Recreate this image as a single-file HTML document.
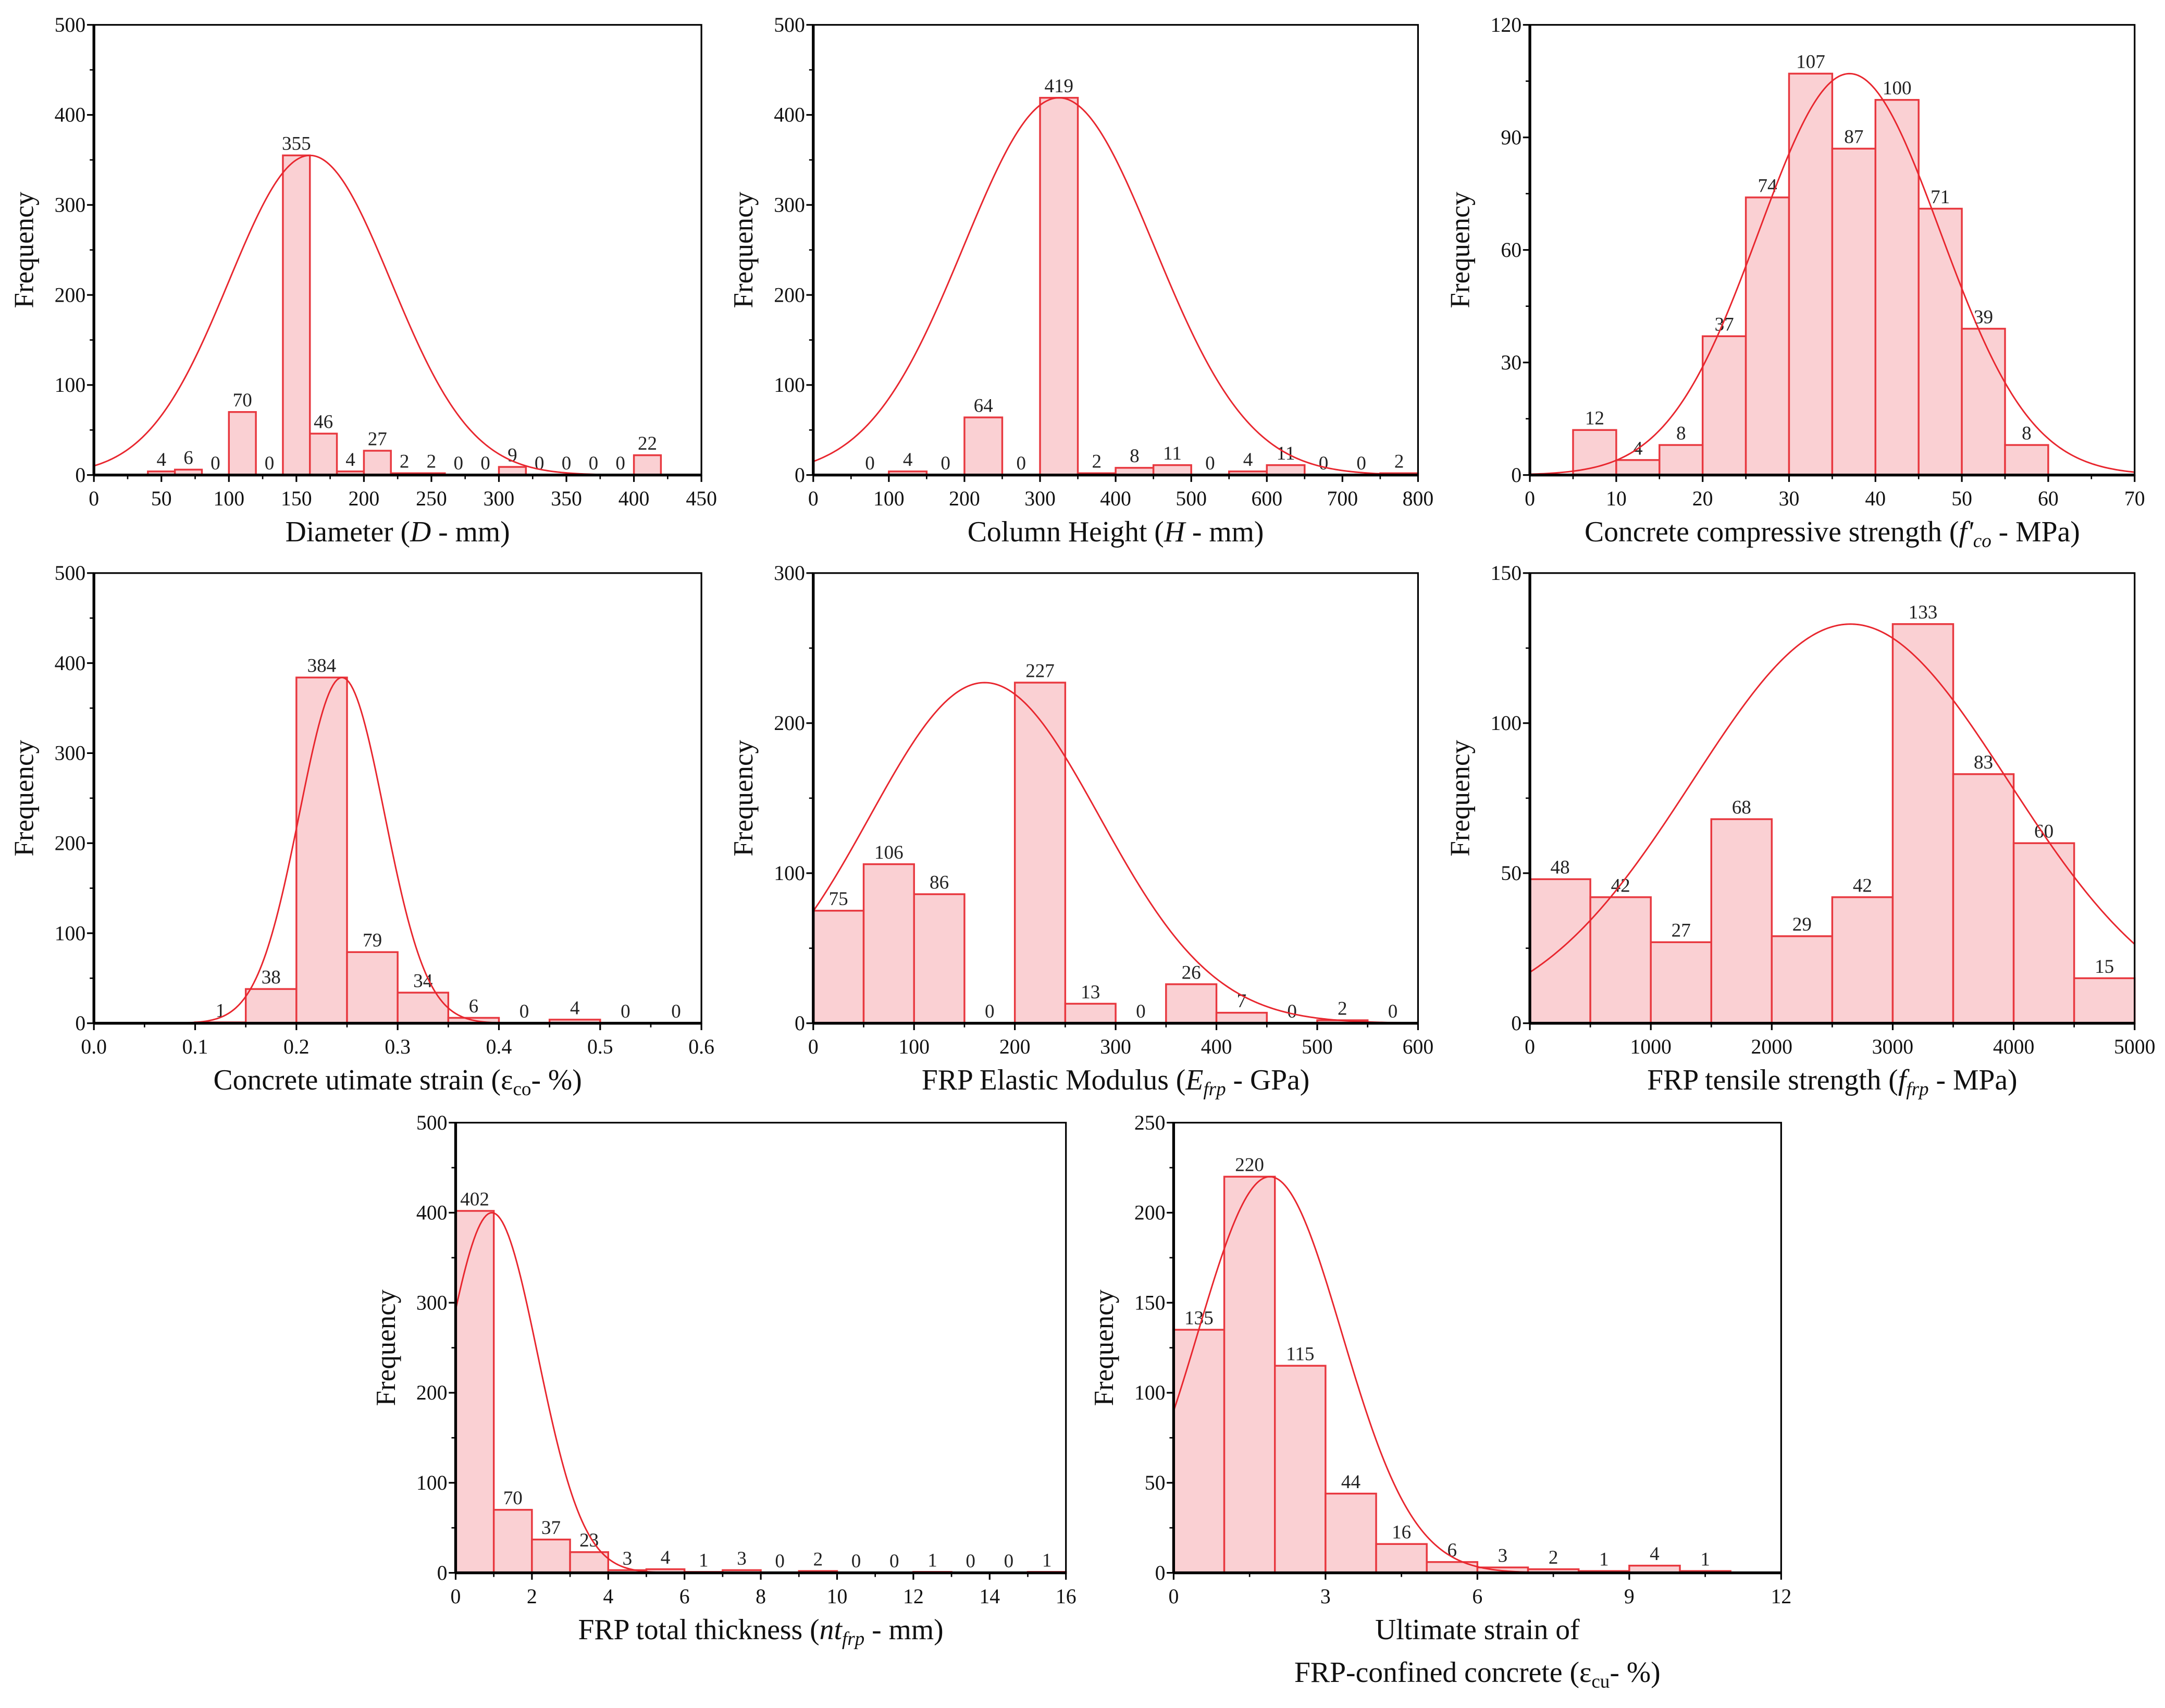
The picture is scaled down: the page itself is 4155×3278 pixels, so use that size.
<!DOCTYPE html>
<html><head><meta charset="utf-8"><title>Histograms</title>
<style>
html,body{margin:0;padding:0;background:#fff;}
svg, svg text{font-family:"Liberation Serif","Times New Roman",serif;}
</style></head>
<body>
<svg id="fig" xmlns="http://www.w3.org/2000/svg" width="4155" height="3273" viewBox="0 0 1568 1235" preserveAspectRatio="none" font-family="Liberation Serif, serif"></svg>
<script>
// ---- Panel data (small named arrays) ----
const p1Counts=[4,6,0,70,0,355,46,4,27,2,2,0,0,9,0,0,0,0,22];
const p1Start=40, p1Width=20;
const p1XTicks=[0,50,100,150,200,250,300,350,400,450];
const p1YTicks=[0,100,200,300,400,500];
const p1Fit=[160,60,355];

const p2Counts=[0,4,0,64,0,419,2,8,11,0,4,11,0,0,2];
const p2Start=50, p2Width=50;
const p2XTicks=[0,100,200,300,400,500,600,700,800];
const p2YTicks=[0,100,200,300,400,500];
const p2Fit=[325,126,419];

const p3Counts=[12,4,8,37,74,107,87,100,71,39,8];
const p3Start=5, p3Width=5;
const p3XTicks=[0,10,20,30,40,50,60,70];
const p3YTicks=[0,30,60,90,120];
const p3Fit=[37,10.5,107];

const p4Counts=[1,38,384,79,34,6,0,4,0,0];
const p4Start=0.1, p4Width=0.05;
const p4XTicks=[0,0.1,0.2,0.3,0.4,0.5,0.6];
const p4XTickLabels=["0.0","0.1","0.2","0.3","0.4","0.5","0.6"];
const p4YTicks=[0,100,200,300,400,500];
const p4Fit=[0.245,0.042,384];

const p5Counts=[75,106,86,0,227,13,0,26,7,0,2,0];
const p5Start=0, p5Width=50;
const p5XTicks=[0,100,200,300,400,500,600];
const p5YTicks=[0,100,200,300];
const p5Fit=[170,114,227];

const p6Counts=[48,42,27,68,29,42,133,83,60,15];
const p6Start=0, p6Width=500;
const p6XTicks=[0,1000,2000,3000,4000,5000];
const p6YTicks=[0,50,100,150];
const p6Fit=[2650,1306,133];

const p7Counts=[402,70,37,23,3,4,1,3,0,2,0,0,1,0,0,1];
const p7Start=0, p7Width=1;
const p7XTicks=[0,2,4,6,8,10,12,14,16];
const p7YTicks=[0,100,200,300,400,500];
const p7Fit=[0.95,1.2,400];

const p8Counts=[135,220,115,44,16,6,3,2,1,4,1];
const p8Start=0, p8Width=1;
const p8XTicks=[0,3,6,9,12];
const p8YTicks=[0,50,100,150,200,250];
const p8Fit=[1.9,1.42,220];

const NS="http://www.w3.org/2000/svg";
const FF="Liberation Serif, Times New Roman, serif";
const svg=document.getElementById('fig');
function mk(tag,attrs,parent){const e=document.createElementNS(NS,tag);for(const k in attrs)e.setAttribute(k,attrs[k]);(parent||svg).appendChild(e);return e;}

function panel(cfg){
  const g=mk('g',{});
  
  
  const {x0,x1,y0,y1,xmin,xmax,ymin,ymax}=cfg;
  const sx=v=>x0+(v-xmin)/(xmax-xmin)*(x1-x0);
  const sy=v=>y1-(v-ymin)/(ymax-ymin)*(y1-y0);
  const cid='clip'+cfg.name;
  const cp=mk('clipPath',{id:cid},g); mk('rect',{x:x0,y:y0,width:x1-x0,height:y1-y0},cp);
  cfg.counts.forEach((c,i)=>{
    const a=cfg.start+i*cfg.width,b=a+cfg.width;
    if(c>0){
      const r=mk('rect',{x:sx(a),y:sy(c),width:sx(b)-sx(a),height:sy(0)-sy(c),fill:'#fad0d3',stroke:'#e8383f','stroke-width':1.3},g);
      
      
    }
    const t=mk('text',{x:(sx(a)+sx(b))/2,y:sy(c)-4,'text-anchor':'middle','font-size':14,'font-family':FF,fill:'#222'},g);
    t.textContent=c;
    
    
  });
  const [m,s,pk]=cfg.fit;
  let d='';
  for(let k=0;k<=300;k++){const v=xmin+(xmax-xmin)*k/300;const y=pk*Math.exp(-(v-m)*(v-m)/(2*s*s));d+=(k?'L':'M')+sx(v).toFixed(2)+','+sy(y).toFixed(2);}
  const cu=mk('path',{d:d,fill:'none',stroke:'#e8262e','stroke-width':1.1,'clip-path':'url(#'+cid+')'},g);
  
  
  const fr=mk('rect',{x:x0,y:y0,width:x1-x0,height:y1-y0,fill:'none',stroke:'#000','stroke-width':1.2},g);
  
  
  mk('line',{x1:x0,y1:y1,x2:x1,y2:y1,stroke:'#000','stroke-width':2},g);
  mk('line',{x1:x0,y1:y0,x2:x0,y2:y1,stroke:'#000','stroke-width':2},g);
  cfg.xticks.forEach((v,i)=>{
    mk('line',{x1:sx(v),y1:y1,x2:sx(v),y2:y1+5,stroke:'#000','stroke-width':1.2},g);
    if(i<cfg.xticks.length-1){const mv=(v+cfg.xticks[i+1])/2;mk('line',{x1:sx(mv),y1:y1,x2:sx(mv),y2:y1+3,stroke:'#000','stroke-width':1},g);}
    const t=mk('text',{x:sx(v),y:y1+22,'text-anchor':'middle','font-size':15,'font-family':FF,fill:'#111'},g);
    t.textContent=cfg.xlabels?cfg.xlabels[i]:v;
    
    
  });
  cfg.yticks.forEach((v,i)=>{
    mk('line',{x1:x0-5,y1:sy(v),x2:x0,y2:sy(v),stroke:'#000','stroke-width':1.2},g);
    if(i<cfg.yticks.length-1){const mv=(v+cfg.yticks[i+1])/2;mk('line',{x1:x0-3,y1:sy(mv),x2:x0,y2:sy(mv),stroke:'#000','stroke-width':1},g);}
    const t=mk('text',{x:x0-6,y:sy(v)+5,'text-anchor':'end','font-size':15,'font-family':FF,fill:'#111'},g);
    t.textContent=v;
    
    
  });
  const yt=mk('text',{x:0,y:0,'text-anchor':'middle','font-size':20,'font-family':FF,fill:'#111',transform:`translate(${x0-44},${(y0+y1)/2}) rotate(-90)`},g);
  yt.textContent='Frequency';
  
  
  cfg.title.forEach((line,li)=>{
    const xt=mk('text',{x:(x0+x1)/2,y:y1+48+li*31,'text-anchor':'middle','font-size':21,'font-family':FF,fill:'#111'},g);
    xt.innerHTML=line;
    
    
  });
}
const sub='baseline-shift="-30%" font-size="14"';
panel({name:'diameter-histogram',x0:68,x1:508,y0:18,y1:344,xmin:0,xmax:450,ymin:0,ymax:500,counts:p1Counts,start:p1Start,width:p1Width,xticks:p1XTicks,yticks:p1YTicks,fit:p1Fit,title:['Diameter (<tspan font-style="italic">D</tspan> - mm)']});
panel({name:'height-histogram',x0:589,x1:1027,y0:18,y1:344,xmin:0,xmax:800,ymin:0,ymax:500,counts:p2Counts,start:p2Start,width:p2Width,xticks:p2XTicks,yticks:p2YTicks,fit:p2Fit,title:['Column Height (<tspan font-style="italic">H</tspan> - mm)']});
panel({name:'fco-histogram',x0:1108,x1:1546,y0:18,y1:344,xmin:0,xmax:70,ymin:0,ymax:120,counts:p3Counts,start:p3Start,width:p3Width,xticks:p3XTicks,yticks:p3YTicks,fit:p3Fit,title:['Concrete compressive strength (<tspan font-style="italic">f\'</tspan><tspan font-style="italic" '+sub+'>co</tspan><tspan> - MPa)</tspan>']});
panel({name:'eco-histogram',x0:68,x1:508,y0:415,y1:741,xmin:0,xmax:0.6,ymin:0,ymax:500,counts:p4Counts,start:p4Start,width:p4Width,xticks:p4XTicks,xlabels:p4XTickLabels,yticks:p4YTicks,fit:p4Fit,title:['Concrete utimate strain (ε<tspan '+sub+'>co</tspan><tspan>- %)</tspan>']});
panel({name:'efrp-histogram',x0:589,x1:1027,y0:415,y1:741,xmin:0,xmax:600,ymin:0,ymax:300,counts:p5Counts,start:p5Start,width:p5Width,xticks:p5XTicks,yticks:p5YTicks,fit:p5Fit,title:['FRP Elastic Modulus (<tspan font-style="italic">E</tspan><tspan font-style="italic" '+sub+'>frp</tspan><tspan> - GPa)</tspan>']});
panel({name:'ffrp-histogram',x0:1108,x1:1546,y0:415,y1:741,xmin:0,xmax:5000,ymin:0,ymax:150,counts:p6Counts,start:p6Start,width:p6Width,xticks:p6XTicks,yticks:p6YTicks,fit:p6Fit,title:['FRP tensile strength (<tspan font-style="italic">f</tspan><tspan font-style="italic" '+sub+'>frp</tspan><tspan> - MPa)</tspan>']});
panel({name:'thickness-histogram',x0:330,x1:772,y0:813,y1:1139,xmin:0,xmax:16,ymin:0,ymax:500,counts:p7Counts,start:p7Start,width:p7Width,xticks:p7XTicks,yticks:p7YTicks,fit:p7Fit,title:['FRP total thickness (<tspan font-style="italic">nt</tspan><tspan font-style="italic" '+sub+'>frp</tspan><tspan> - mm)</tspan>']});
panel({name:'ecu-histogram',x0:850,x1:1290,y0:813,y1:1139,xmin:0,xmax:12,ymin:0,ymax:250,counts:p8Counts,start:p8Start,width:p8Width,xticks:p8XTicks,yticks:p8YTicks,fit:p8Fit,title:['Ultimate strain of','FRP-confined concrete  (ε<tspan '+sub+'>cu</tspan><tspan>- %)</tspan>']});
</script>
</body></html>
